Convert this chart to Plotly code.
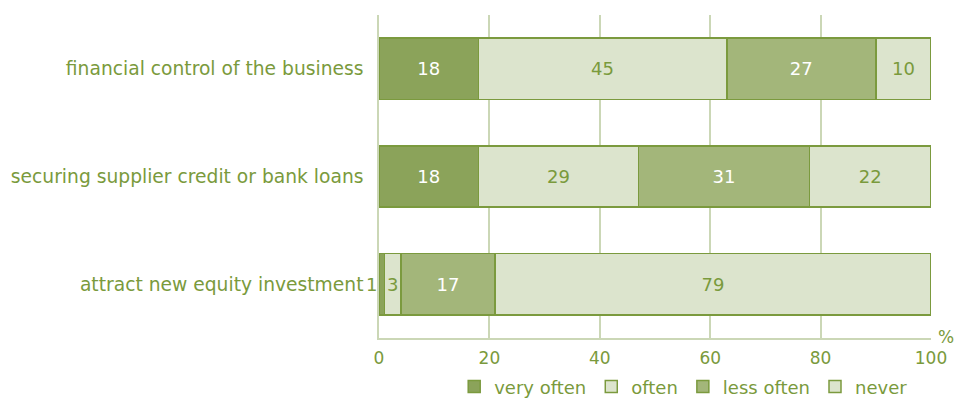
import plotly.graph_objects as go

# Survey responses (% of firms), stacked per purpose
categories = [
    "financial control of the business",
    "securing supplier credit or bank loans",
    "attract new equity investment",
]
series_names = ["very often", "often", "less often", "never"]
very_often = [18, 18, 1]
often = [45, 29, 3]
less_often = [27, 31, 17]
never = [10, 22, 79]
x_ticks = [0, 20, 40, 60, 80, 100]

GREEN_TEXT = "#7a9a3c"
EDGE = "#7b9a3e"
GRID = "#cbd7b6"
fills = ["#8ba35a", "#dce4cd", "#a3b67a", "#dce4cd"]
label_colors = ["#ffffff", GREEN_TEXT, "#ffffff", GREEN_TEXT]
FONT = "DejaVu Sans"

values = [very_often, often, less_often, never]

fig = go.Figure()
for name, vals, fill, lc in zip(series_names, values, fills, label_colors):
    # very thin segments get their labels placed separately
    txt = [str(v) if v >= 3 else "" for v in vals]
    fig.add_trace(go.Bar(
        y=categories, x=vals, name=name, orientation="h",
        marker=dict(color=fill, line=dict(color=EDGE, width=1.5)),
        text=txt, textposition="inside", insidetextanchor="middle",
        constraintext="none",
        textfont=dict(family=FONT, size=18, color=lc),
        hoverinfo="skip",
    ))

# label for segments too narrow to hold their value: put it just left of the bar
for vals in values:
    for cat, v in zip(categories, vals):
        if v < 3:
            fig.add_annotation(
                x=0, y=cat, xref="x", yref="y", text=str(v), showarrow=False,
                xanchor="right", xshift=0,
                font=dict(family=FONT, size=18, color=GREEN_TEXT),
            )

fig.add_annotation(
    x=1, y=0, xref="paper", yref="paper", text="%", showarrow=False,
    xanchor="left", yanchor="middle", xshift=5, yshift=1,
    font=dict(family=FONT, size=17, color=GREEN_TEXT),
)

fig.update_layout(
    barmode="stack",
    bargap=0.43,
    width=955, height=400,
    margin=dict(l=379, r=24, t=15, b=62, autoexpand=False),
    paper_bgcolor="white", plot_bgcolor="white",
    font=dict(family=FONT, color=GREEN_TEXT, size=18),
    showlegend=True,
    legend=dict(
        orientation="h", x=0.552, xanchor="center",
        yref="container", y=0.033, yanchor="middle",
        font=dict(family=FONT, size=18, color=GREEN_TEXT),
        traceorder="normal", itemwidth=30,
    ),
    xaxis=dict(
        range=[0, 100], tickvals=x_ticks, ticktext=[str(t) for t in x_ticks],
        showgrid=True, gridcolor=GRID, gridwidth=1.5,
        showline=True, linecolor=GRID, linewidth=1.5,
        zeroline=False, ticks="", ticklabelstandoff=4,
        tickfont=dict(family=FONT, size=17, color=GREEN_TEXT),
        fixedrange=True,
    ),
    yaxis=dict(
        autorange="reversed", showline=True, linecolor=GRID, linewidth=1.5,
        ticks="", ticklabelstandoff=10,
        tickfont=dict(family=FONT, size=18.7, color=GREEN_TEXT),
        fixedrange=True,
    ),
)

fig.write_html("out.html")
